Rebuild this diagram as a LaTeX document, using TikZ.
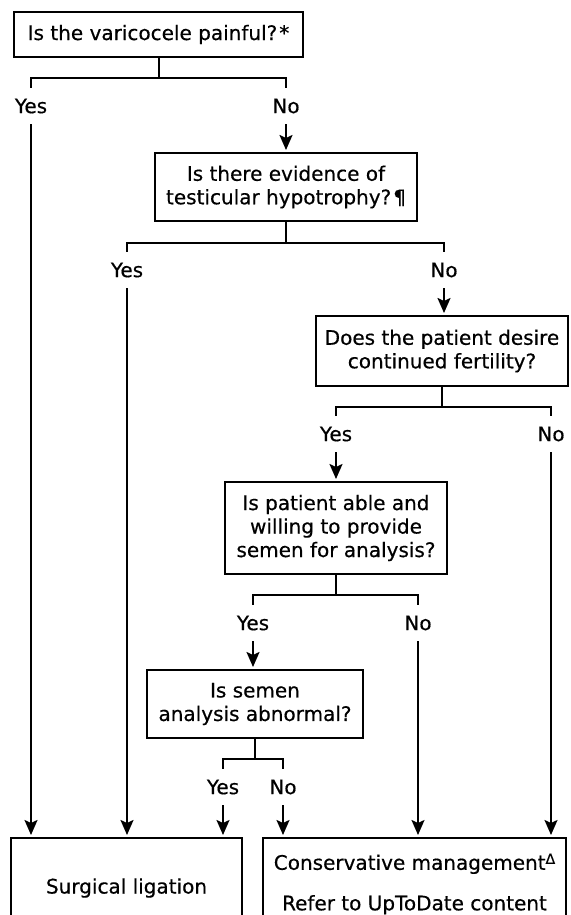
\documentclass[tikz,border=0pt]{standalone}
\usepackage{fontspec}
\setmainfont{DejaVu Sans}[FakeBold=0.5]
\usetikzlibrary{arrows.meta}
\newcommand\dgfont{\fontsize{20}{23.5}\selectfont}
\begin{document}
\begin{tikzpicture}[x=1pt,y=-1pt,
  box/.style={draw, line width=2pt, align=center, inner sep=0pt, font=\dgfont},
  lbl/.style={inner sep=0pt, minimum height=36pt, font=\dgfont},
  conn/.style={line width=2pt},
  arr/.style={line width=2pt, -{Stealth[length=15pt,width=13pt,inset=3pt]}, shorten >=2pt},
]
\useasboundingbox (0,0) rectangle (570,915);
\clip (0,0) rectangle (570,915);

\node[box, minimum width=289pt, minimum height=45pt] (q1) at (158.5,34.5) {Is the varicocele painful?\kern2pt*};
\node[box, minimum width=262pt, minimum height=68pt] (q2) at (286,187) {Is there evidence of\\testicular hypotrophy?\kern2pt¶};
\node[box, minimum width=252pt, minimum height=70pt] (q3) at (442,351) {Does the patient desire\\continued fertility?};
\node[box, minimum width=222pt, minimum height=92pt] (q4) at (336,528) {Is patient able and\\willing to provide\\semen for analysis?};
\node[box, minimum width=216pt, minimum height=68pt] (q5) at (255,704) {Is semen\\analysis abnormal?};
\node[box, minimum width=231pt, minimum height=100pt] (r1) at (126.5,888) {Surgical ligation};
\node[box, minimum width=303pt, minimum height=92pt] (r2) at (414.5,884) {Conservative management\raisebox{0.55ex}{\fontsize{14}{14}\selectfont Δ}\\[17pt]Refer to UpToDate content};

\node[lbl] (y1) at (31,106) {Yes};
\node[lbl] (n1) at (286,106) {No};
\node[lbl] (y2) at (127,270) {Yes};
\node[lbl] (n2) at (444,270) {No};
\node[lbl] (y3) at (336,434) {Yes};
\node[lbl] (n3) at (551,434) {No};
\node[lbl] (y4) at (253,623) {Yes};
\node[lbl] (n4) at (418,623) {No};
\node[lbl] (y5) at (223,787) {Yes};
\node[lbl] (n5) at (283,787) {No};

\draw[conn] (q1.south) -- ++(0,20) coordinate (j1);
\draw[conn] (y1.north) |- (j1) -| (n1.north);
\draw[conn] (q2.south) -- ++(0,21) coordinate (j2);
\draw[conn] (y2.north) |- (j2) -| (n2.north);
\draw[conn] (q3.south) -- ++(0,20) coordinate (j3);
\draw[conn] (y3.north) |- (j3) -| (n3.north);
\draw[conn] (q4.south) -- ++(0,20) coordinate (j4);
\draw[conn] (y4.north) |- (j4) -| (n4.north);
\draw[conn] (q5.south) -- ++(0,20) coordinate (j5);
\draw[conn] (y5.north) |- (j5) -| (n5.north);

\draw[arr] (y1.south) -- (y1.south |- r1.north);
\draw[arr] (n1.south) -- (n1.south |- q2.north);
\draw[arr] (y2.south) -- (y2.south |- r1.north);
\draw[arr] (n2.south) -- (n2.south |- q3.north);
\draw[arr] (y3.south) -- (y3.south |- q4.north);
\draw[arr] (n3.south) -- (n3.south |- r2.north);
\draw[arr] (y4.south) -- (y4.south |- q5.north);
\draw[arr] (n4.south) -- (n4.south |- r2.north);
\draw[arr] (y5.south) -- (y5.south |- r1.north);
\draw[arr] (n5.south) -- (n5.south |- r2.north);
\end{tikzpicture}
\end{document}
